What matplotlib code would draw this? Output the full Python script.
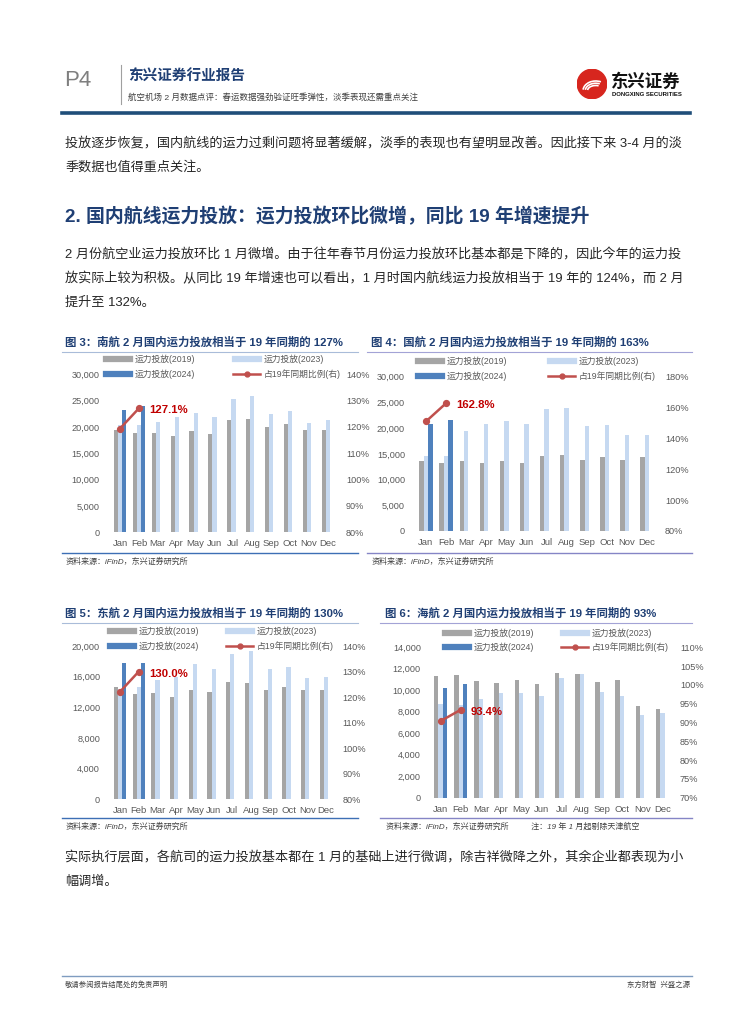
import numpy as np
import matplotlib.pyplot as plt
from matplotlib.lines import Line2D
from matplotlib.patches import Circle, Arc
from matplotlib.ticker import FuncFormatter

plt.rcParams['font.family'] = ['Liberation Sans', 'Noto Sans CJK SC']

W, H = 755, 1024

months = ['Jan', 'Feb', 'Mar', 'Apr', 'May', 'Jun', 'Jul', 'Aug', 'Sep', 'Oct', 'Nov', 'Dec']

# 南航 (capacity, 2019 / 2023 / 2024, and 2024 as % of 2019)
csa_2019 = [19400, 18800, 18900, 18300, 19200, 18600, 21300, 21500, 19900, 20500, 19500, 19400]
csa_2023 = [20400, 20300, 20900, 21800, 22700, 21800, 25400, 25800, 22400, 23100, 20800, 21300]
csa_2024 = [23200, 23900]
csa_ratio = [119.4, 127.1]

# 国航
ca_2019 = [13700, 13300, 13700, 13300, 13700, 13300, 14600, 14700, 13900, 14300, 13900, 14400]
ca_2023 = [14600, 14600, 19400, 20800, 21400, 20900, 23700, 24000, 20500, 20700, 18700, 18700]
ca_2024 = [20800, 21600]
ca_ratio = [151.0, 162.8]

# 东航
ce_2019 = [14600, 13700, 13900, 13400, 14200, 14000, 15300, 15200, 14300, 14600, 14300, 14300]
ce_2023 = [14400, 14700, 15500, 16000, 17700, 17000, 19000, 19300, 17000, 17200, 15800, 16000]
ce_2024 = [17800, 17800]
ce_ratio = [122.1, 130.0]

# 海航
hna_2019 = [11300, 11400, 10900, 10700, 11000, 10600, 11600, 11500, 10800, 11000, 8500, 8300]
hna_2023 = [8700, 8600, 9200, 9700, 9700, 9500, 11100, 11500, 9800, 9500, 7700, 7900]
hna_2024 = [10200, 10600]
hna_ratio = [90.4, 93.4]

GRAY = '#A5A5A5'
LIGHT = '#C6D9F1'
BLUE = '#4F81BD'
RED = '#C0504D'
DARKRED = '#C00000'
NAVY = '#1F3F74'
TICK = '#595959'

fig = plt.figure(figsize=(W / 100, H / 100), dpi=100)


def fbox(x0, y0, x1, y1):
    return [x0 / W, 1 - y1 / H, (x1 - x0) / W, (y1 - y0) / H]


def ftxt(x, y, s, **kw):
    kw.setdefault('va', 'center')
    return fig.text(x / W, 1 - y / H, s, **kw)


def hline(x0, x1, y, color, lw):
    fig.add_artist(Line2D([x0 / W, x1 / W], [1 - y / H, 1 - y / H], color=color, lw=lw))


def vline(x, y0, y1, color, lw):
    fig.add_artist(Line2D([x / W, x / W], [1 - y0 / H, 1 - y1 / H], color=color, lw=lw))


def legend(x_left, x_right, y1, y2):
    hline(x_left, x_left + 24, y1, GRAY, 4.5)
    ftxt(x_left + 29, y1, '运力投放(2019)', fontsize=6.3, color=TICK)
    hline(x_right, x_right + 24, y1, LIGHT, 4.5)
    ftxt(x_right + 29, y1, '运力投放(2023)', fontsize=6.3, color=TICK)
    hline(x_left, x_left + 24, y2, BLUE, 4.5)
    ftxt(x_left + 29, y2, '运力投放(2024)', fontsize=6.3, color=TICK)
    hline(x_right - 2, x_right + 25, y2, RED, 1.8)
    fig.add_artist(Line2D([(x_right + 11.5) / W], [1 - y2 / H], marker='o', ms=3.5,
                          color=RED))
    ftxt(x_right + 29, y2, '占19年同期比例(右)', fontsize=6.3, color=TICK)


def chart(box, v19, v23, v24, ratio, ymax, ystep, rlim, rstep, label, lpad, rpad):
    ax = fig.add_axes(box)
    x = np.arange(len(months))
    w = 0.22
    ax.bar(x - 0.22, v19, w, color=GRAY)
    ax.bar(x, v23, w, color=LIGHT)
    ax.bar(np.arange(len(v24)) + 0.22, v24, w, color=BLUE)
    ax.set_xlim(-0.6, 11.6)
    ax.set_ylim(0, ymax)
    ax.set_yticks(np.arange(0, ymax + 1, ystep))
    ax.yaxis.set_major_formatter(FuncFormatter(lambda v, p: f'{v:,.0f}'))
    ax.set_xticks(x, months)
    ax.tick_params(axis='y', length=0, labelsize=6.6, colors=TICK, pad=lpad)
    ax.tick_params(axis='x', length=0, labelsize=6.8, colors=TICK, pad=5)
    for s in ax.spines.values():
        s.set_visible(False)
    ax.patch.set_alpha(0)

    ax2 = ax.twinx()
    ax2.plot(np.arange(len(ratio)), ratio, color=RED, lw=1.8, marker='o', ms=4.2)
    ax2.set_ylim(*rlim)
    ax2.set_yticks(np.arange(rlim[0], rlim[1] + 0.1, rstep))
    ax2.yaxis.set_major_formatter(FuncFormatter(lambda v, p: f'{v:.0f}%'))
    ax2.tick_params(axis='y', length=0, labelsize=6.6, colors=TICK, pad=rpad)
    for s in ax2.spines.values():
        s.set_visible(False)
    ax2.annotate(label, xy=(len(ratio) - 1, ratio[-1]), xytext=(10, -2),
                 textcoords='offset pixels', ha='left', va='center',
                 fontsize=8.2, fontweight='bold', color=DARKRED)


# ---- header ----
ftxt(64, 81, 'P4', fontsize=16, color='#7F7F7F')
vline(121, 65, 104, '#A0A0A0', 0.8)
ftxt(128, 77, '东兴证券行业报告', fontsize=10.5, fontweight='bold', color=NAVY)
ftxt(128, 97, '航空机场 2 月数据点评：春运数据强劲验证旺季弹性，淡季表现还需重点关注',
     fontsize=6.1, color='#404040')

lax = fig.add_axes(fbox(577, 69, 607, 99))
lax.set_xlim(-1, 1)
lax.set_ylim(-1, 1)
lax.axis('off')
lax.add_patch(Circle((0, 0), 0.98, color='#D7261E'))
for r in (0.35, 0.5, 0.65):
    lax.add_patch(Arc((0.25, -0.45), 2 * r + 0.4, 2 * r, theta1=60, theta2=175,
                      color='white', lw=1.2))
ftxt(611, 81, '东兴证券', fontsize=12.5, fontweight='heavy', color='#111111')
ftxt(612, 95, 'DONGXING SECURITIES', fontsize=4.3, fontweight='bold', color='#111111')

hline(62, 690, 113, '#1F4E79', 2.6)

# ---- body text ----
BODY = dict(fontsize=9.45, color='#262626')
ftxt(65, 143, '投放逐步恢复，国内航线的运力过剩问题将显著缓解，淡季的表现也有望明显改善。因此接下来 3-4 月的淡', **BODY)
ftxt(65, 167, '季数据也值得重点关注。', **BODY)
ftxt(65, 217, '2. 国内航线运力投放：运力投放环比微增，同比 19 年增速提升',
     fontsize=13.6, fontweight='bold', color=NAVY)
ftxt(65, 255, '2 月份航空业运力投放环比 1 月微增。由于往年春节月份运力投放环比基本都是下降的，因此今年的运力投', **BODY)
ftxt(65, 279, '放实际上较为积极。从同比 19 年增速也可以看出，1 月时国内航线运力投放相当于 19 年的 124%，而 2 月', **BODY)
ftxt(65, 303, '提升至 132%。', **BODY)

# ---- chart titles and frames ----
TITLE = dict(fontsize=8.2, fontweight='bold', color=NAVY)
SRC = dict(fontsize=5.8, color='#404040', style='italic')

ftxt(65, 342, '图 3：南航 2 月国内运力投放相当于 19 年同期的 127%', **TITLE)
hline(62, 358, 352, '#A9BCD9', 0.8)
hline(62, 358, 553, '#3D6FB5', 1.0)
ftxt(66, 562, '资料来源：iFinD，东兴证券研究所', **SRC)

ftxt(371, 342, '图 4：国航 2 月国内运力投放相当于 19 年同期的 163%', **TITLE)
hline(367, 692, 352, '#A3A3D6', 0.8)
hline(367, 692, 553, '#8585C6', 1.0)
ftxt(372, 562, '资料来源：iFinD，东兴证券研究所', **SRC)

ftxt(65, 613, '图 5：东航 2 月国内运力投放相当于 19 年同期的 130%', **TITLE)
hline(62, 358, 623, '#A9BCD9', 0.8)
hline(62, 358, 818, '#3D6FB5', 1.0)
ftxt(66, 827, '资料来源：iFinD，东兴证券研究所', **SRC)

ftxt(385, 613, '图 6：海航 2 月国内运力投放相当于 19 年同期的 93%', **TITLE)
hline(380, 692, 623, '#A3A3D6', 0.8)
hline(380, 692, 818, '#8585C6', 1.0)
ftxt(386, 827, '资料来源：iFinD，东兴证券研究所          注：19 年 1 月起剔除天津航空', **SRC)

# ---- legends ----
legend(106, 235, 359, 374)
legend(418, 550, 361, 376)
legend(110, 228, 631, 646)
legend(445, 563, 633, 647)

# ---- charts ----
chart(fbox(108.7, 374.3, 339.3, 532.3), csa_2019, csa_2023, csa_2024, csa_ratio,
      30000, 5000, (80, 140), 10, '127.1%', 6.3, 4.8)
chart(fbox(413.9, 376.7, 659.1, 531.0), ca_2019, ca_2023, ca_2024, ca_ratio,
      30000, 5000, (80, 180), 20, '162.8%', 6.4, 4.3)
chart(fbox(108.8, 646.0, 337.2, 799.3), ce_2019, ce_2023, ce_2024, ce_ratio,
      20000, 4000, (80, 140), 10, '130.0%', 6.3, 3.8)
chart(fbox(428.6, 647.3, 674.4, 797.7), hna_2019, hna_2023, hna_2024, hna_ratio,
      14000, 2000, (70, 110), 5, '93.4%', 5.5, 4.0)

# ---- closing paragraph and footer ----
ftxt(65, 858, '实际执行层面，各航司的运力投放基本都在 1 月的基础上进行微调，除吉祥微降之外，其余企业都表现为小', **BODY)
ftxt(65, 882, '幅调增。', **BODY)

hline(62, 692, 976, '#7F9CC0', 1.0)
ftxt(65, 985, '敬请参阅报告结尾处的免责声明', fontsize=5.3, color='#404040')
ftxt(690, 985, '东方财智  兴盛之源', fontsize=5.3, color='#404040', ha='right')

fig.savefig('out.png', dpi=100)
